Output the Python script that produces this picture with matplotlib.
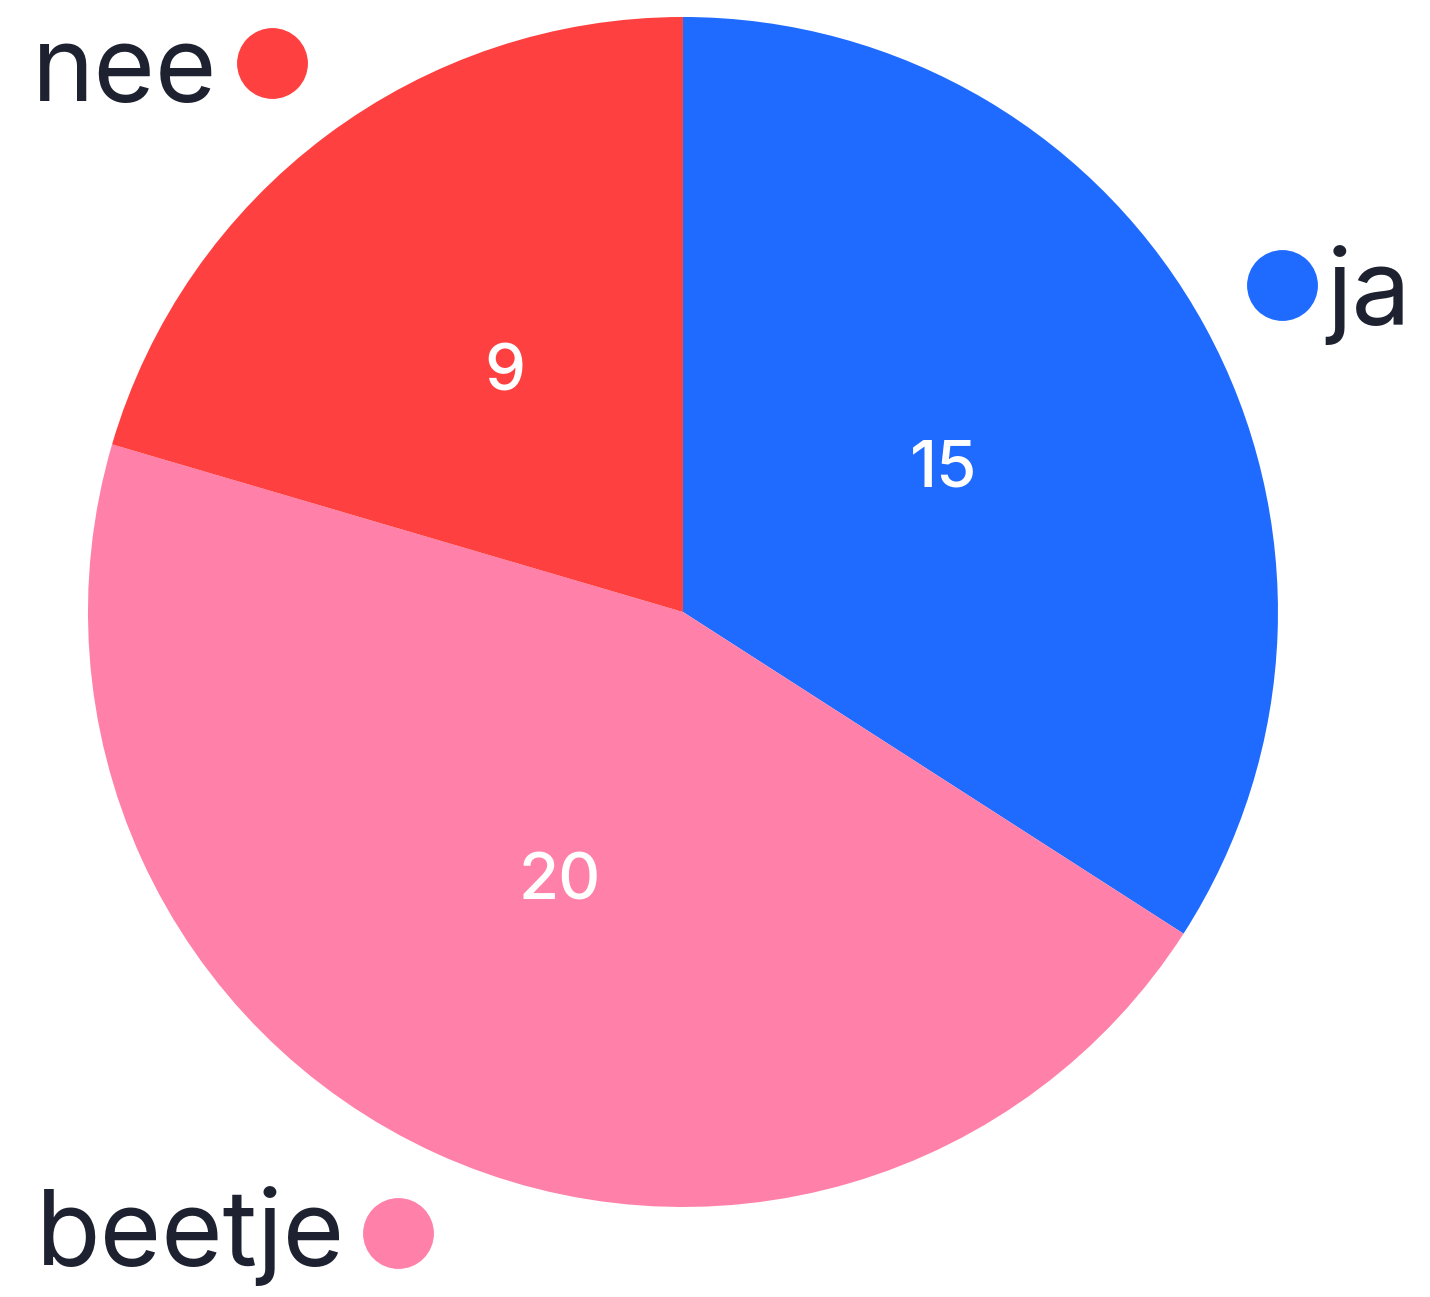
import matplotlib.pyplot as plt

labels = ['ja', 'beetje', 'nee']
values = [15, 20, 9]
colors = ['#1f6bff', '#ff80a8', '#ff4040']

# where the outside labels sit (data coords, pie radius = 1)
dot_pos = [(1.007, 0.550), (-0.479, -1.044), (-0.691, 0.923)]
text_pos = [(1.082, 0.484, 'left'), (-0.568, -1.097, 'right'), (-0.782, 0.858, 'right')]

plt.rcParams['font.family'] = ['Inter', 'DejaVu Sans']

fig = plt.figure(figsize=(14.30, 12.97), dpi=100)
ax = fig.add_axes([0.0615, 0.0694, 0.8322, 0.9175])

wedges, texts, autotexts = ax.pie(values, colors=colors, startangle=90, counterclock=False,
                                  autopct=lambda p: '%d' % round(p * sum(values) / 100),
                                  pctdistance=0.5, radius=1,
                                  wedgeprops={'linewidth': 0})
for t in autotexts:
    t.set_color('white')
    t.set_fontsize(47)
    t.set_fontweight('medium')

for i in range(len(labels)):
    ax.plot(dot_pos[i][0], dot_pos[i][1], 'o', color=colors[i], markersize=50, clip_on=False)
    x, y, ha = text_pos[i]
    ax.text(x, y, labels[i], ha=ha, va='baseline', fontsize=76, color='#1e2230', clip_on=False)

ax.set_xlim(-1, 1)
ax.set_ylim(-1, 1)
ax.set_aspect('equal')
ax.axis('off')

fig.savefig('out.png', dpi=100, facecolor='white')
